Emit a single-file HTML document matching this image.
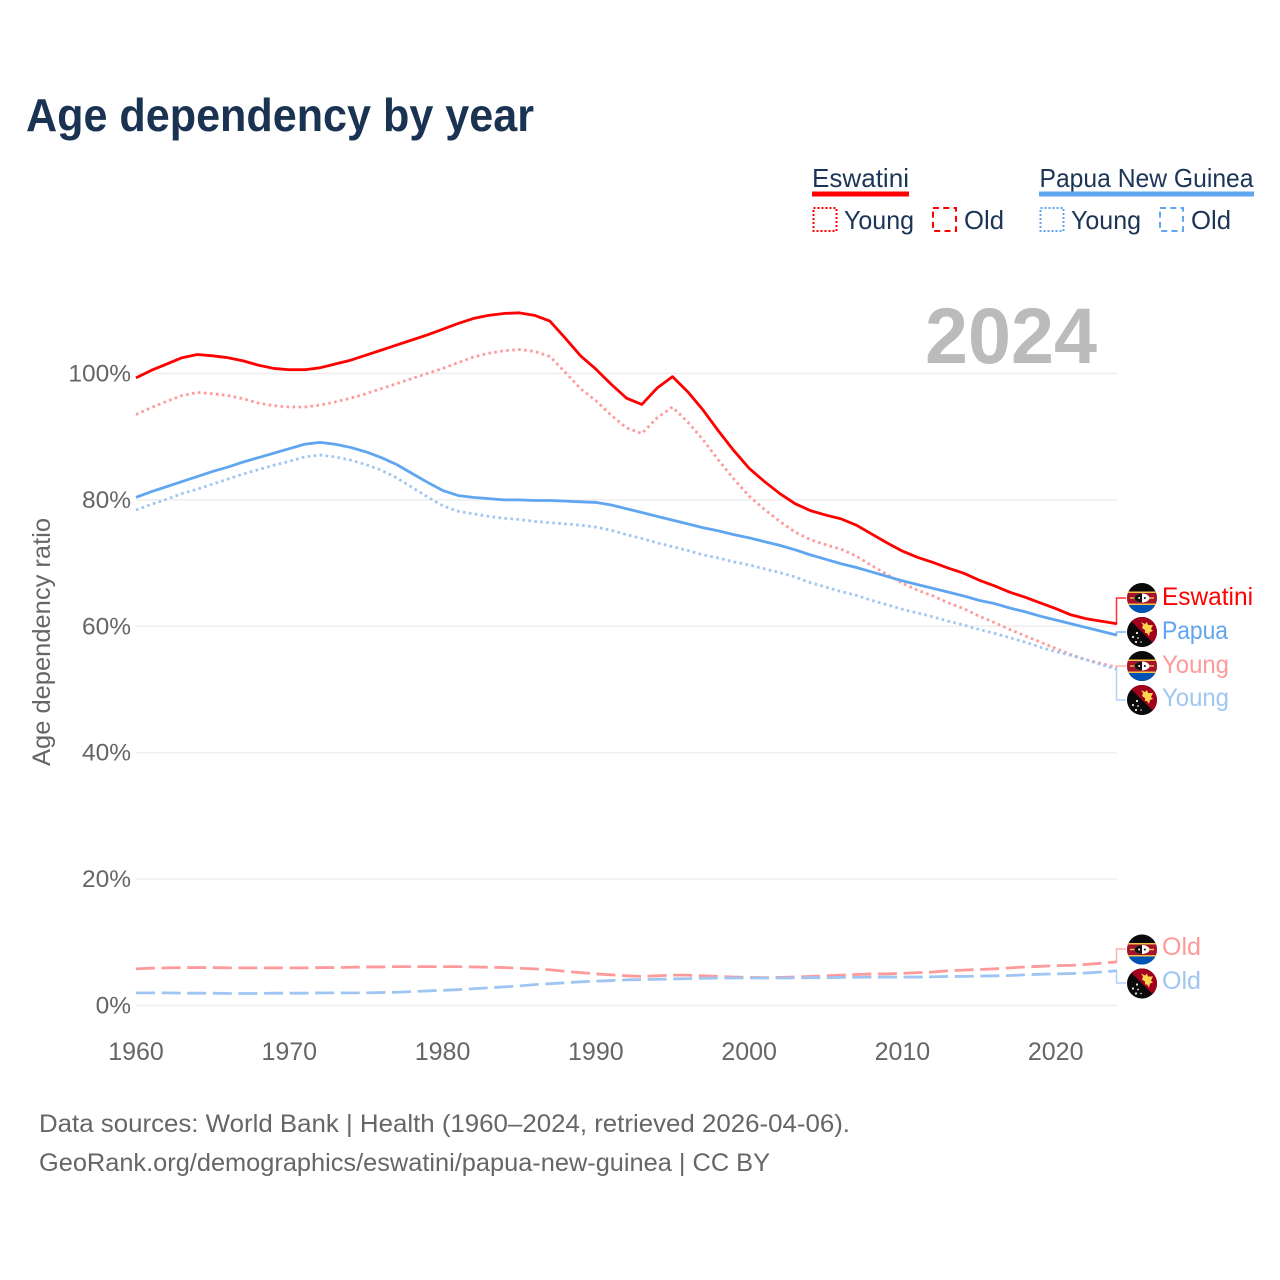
<!DOCTYPE html>
<html lang="en">
<head>
<meta charset="utf-8">
<title>Age dependency by year</title>
<style>
html,body{margin:0;padding:0;background:#fff;}
svg{display:block;font-family:"Liberation Sans",sans-serif;}
</style>
</head>
<body>
<svg id="chart" width="1280" height="1280" viewBox="0 0 1280 1280" xmlns="http://www.w3.org/2000/svg">
  <defs>
    <clipPath id="flag-clip"><circle cx="0" cy="0" r="15"/></clipPath>
    <g id="flag-eswatini" clip-path="url(#flag-clip)">
      <rect x="-15" y="-15" width="30" height="30" fill="#0a0a0a"/>
      <rect x="-15" y="-6.5" width="30" height="13.5" fill="#f6c445"/>
      <rect x="-15" y="-5" width="30" height="10.5" fill="#a4122b"/>
      <rect x="-15" y="7" width="30" height="8" fill="#0052b4"/>
      <rect x="-12" y="-0.7" width="24" height="1.4" fill="#f6c445"/>
      <ellipse cx="0" cy="0" rx="7.5" ry="4.5" fill="#fff"/>
      <path d="M-7.5 0A7.5 4.5 0 0 1 0 -4.5V4.5A7.5 4.5 0 0 1 -7.5 0Z" fill="#111"/>
      <circle cx="-2.8" cy="0" r="1" fill="#fff"/>
      <circle cx="2.8" cy="0" r="1" fill="#111"/>
    </g>
    <g id="flag-papua" clip-path="url(#flag-clip)">
      <rect x="-15" y="-15" width="30" height="30" fill="#0a0a0a"/>
      <path d="M-15 -15H15V15Z" fill="#a2001d"/>
      <path d="M-1 -10L3 -8L5 -10L6 -7L11 -7L9 -3L11 -1L8 0L7 4L5 1L3 1L3 -2L0 -4L1 -7Z" fill="#ffd34d"/>
      <circle cx="-5" cy="1" r="1.1" fill="#eee"/>
      <circle cx="-9" cy="5" r="1.1" fill="#eee"/>
      <circle cx="-4" cy="6" r="0.9" fill="#eee"/>
      <circle cx="-6" cy="10" r="1.1" fill="#eee"/>
      <circle cx="-1" cy="10" r="0.8" fill="#eee"/>
    </g>
  </defs>

  <text x="26" y="131" font-size="46" font-weight="700" fill="#1a3352" textLength="508" lengthAdjust="spacingAndGlyphs">Age dependency by year</text>

  <g fill="#1c3557" font-size="26">
    <text x="812" y="187" textLength="97" lengthAdjust="spacingAndGlyphs">Eswatini</text>
    <rect x="812" y="191.5" width="97" height="5" fill="#ff0000"/>
    <rect x="813.5" y="208" width="23" height="23" fill="none" stroke="#ff0000" stroke-width="2" stroke-dasharray="2,2"/>
    <text x="844" y="229" textLength="70" lengthAdjust="spacingAndGlyphs">Young</text>
    <rect x="933" y="208" width="23" height="23" fill="none" stroke="#ff0000" stroke-width="2" stroke-dasharray="6,4.3"/>
    <text x="964" y="229" textLength="40" lengthAdjust="spacingAndGlyphs">Old</text>

    <text x="1039.5" y="187" textLength="214" lengthAdjust="spacingAndGlyphs">Papua New Guinea</text>
    <rect x="1039" y="191.5" width="215" height="5" fill="#60a5f0"/>
    <rect x="1040.5" y="208" width="23" height="23" fill="none" stroke="#60a5f0" stroke-width="2" stroke-dasharray="2,2"/>
    <text x="1071" y="229" textLength="70" lengthAdjust="spacingAndGlyphs">Young</text>
    <rect x="1160" y="208" width="23" height="23" fill="none" stroke="#60a5f0" stroke-width="2" stroke-dasharray="6,4.3"/>
    <text x="1191" y="229" textLength="40" lengthAdjust="spacingAndGlyphs">Old</text>
  </g>

  <g id="grid"></g>
  <text x="925" y="363" font-size="79" font-weight="700" fill="#bbbbbb" textLength="172" lengthAdjust="spacingAndGlyphs">2024</text>
  <g id="y-ticks" fill="#666666" font-size="24.5" text-anchor="end"></g>
  <g id="x-ticks" fill="#666666" font-size="25" text-anchor="middle"></g>
  <text transform="translate(50,642) rotate(-90)" text-anchor="middle" font-size="25" fill="#666666" textLength="248" lengthAdjust="spacingAndGlyphs">Age dependency ratio</text>
  <g id="connectors"></g>
  <g id="series"></g>

  <g font-size="25">
    <use href="#flag-eswatini" x="1142" y="598"/>
    <text x="1162" y="605" fill="#ff0000" textLength="91" lengthAdjust="spacingAndGlyphs">Eswatini</text>
    <use href="#flag-papua" x="1142" y="632"/>
    <text x="1162" y="639" fill="#60a5f0" textLength="66" lengthAdjust="spacingAndGlyphs">Papua</text>
    <use href="#flag-eswatini" x="1142" y="666"/>
    <text x="1162" y="673" fill="#ff9a9a" textLength="67" lengthAdjust="spacingAndGlyphs">Young</text>
    <use href="#flag-papua" x="1142" y="700"/>
    <text x="1162" y="706" fill="#9fc6f2" textLength="67" lengthAdjust="spacingAndGlyphs">Young</text>
    <use href="#flag-eswatini" x="1142" y="949.5"/>
    <text x="1162" y="955" fill="#ff9a9a" textLength="39" lengthAdjust="spacingAndGlyphs">Old</text>
    <use href="#flag-papua" x="1142" y="983.5"/>
    <text x="1162" y="989" fill="#9fc6f2" textLength="39" lengthAdjust="spacingAndGlyphs">Old</text>
  </g>

  <g fill="#666666" font-size="25">
    <text x="39" y="1132" textLength="811" lengthAdjust="spacingAndGlyphs">Data sources: World Bank | Health (1960–2024, retrieved 2026-04-06).</text>
    <text x="39" y="1171" textLength="731" lengthAdjust="spacingAndGlyphs">GeoRank.org/demographics/eswatini/papua-new-guinea | CC BY</text>
  </g>
</svg>
<script>
const firstYear = 1960;
const lastYear = 2024;
const xTickYears = [1960, 1970, 1980, 1990, 2000, 2010, 2020];
const yTickValues = [0, 20, 40, 60, 80, 100];
const eswatiniTotal = [
  99.3,100.5,101.5,102.5,103.0,102.8,102.5,102.0,101.3,100.8,
  100.6,100.6,100.9,101.5,102.1,102.9,103.7,104.5,105.3,106.1,
  107.0,107.9,108.7,109.2,109.5,109.6,109.2,108.3,105.6,102.8,
  100.7,98.3,96.1,95.1,97.7,99.5,97.1,94.2,90.9,87.8,
  85.0,82.9,81.0,79.4,78.3,77.6,77.0,76.0,74.6,73.2,
  71.9,70.9,70.1,69.2,68.4,67.3,66.4,65.4,64.6,63.7,
  62.8,61.8,61.2,60.8,60.4];
const eswatiniYoung = [
  93.5,94.6,95.6,96.5,97.0,96.8,96.5,96.0,95.3,94.9,
  94.7,94.7,95.0,95.5,96.1,96.8,97.6,98.4,99.2,100.0,
  100.8,101.7,102.6,103.2,103.6,103.8,103.5,102.7,100.2,97.6,
  95.7,93.4,91.4,90.5,93.0,94.7,92.3,89.5,86.3,83.3,
  80.6,78.5,76.6,74.9,73.7,72.9,72.2,71.1,69.6,68.2,
  66.8,65.7,64.8,63.7,62.8,61.6,60.6,59.5,58.5,57.5,
  56.5,55.5,54.7,54.1,53.5];
const eswatiniOld = [
  5.8,5.9,5.95,6.0,6.0,6.0,5.95,5.95,5.95,5.95,
  5.95,5.95,6.0,6.0,6.05,6.1,6.1,6.15,6.15,6.15,
  6.15,6.15,6.1,6.05,6.0,5.9,5.8,5.65,5.4,5.2,
  5.0,4.85,4.7,4.6,4.7,4.8,4.8,4.7,4.6,4.5,
  4.45,4.4,4.45,4.5,4.6,4.7,4.8,4.9,5.0,5.0,
  5.1,5.2,5.3,5.5,5.6,5.7,5.8,5.95,6.1,6.2,
  6.3,6.35,6.5,6.7,6.9];
const papuaTotal = [
  80.4,81.3,82.1,82.9,83.7,84.5,85.2,86.0,86.7,87.4,
  88.1,88.8,89.1,88.8,88.3,87.6,86.7,85.6,84.2,82.8,
  81.5,80.7,80.4,80.2,80.0,80.0,79.9,79.9,79.8,79.7,
  79.6,79.2,78.6,78.0,77.4,76.8,76.2,75.6,75.1,74.5,
  74.0,73.4,72.8,72.1,71.3,70.6,69.9,69.3,68.6,67.9,
  67.2,66.6,66.0,65.4,64.8,64.1,63.6,62.9,62.3,61.6,
  61.0,60.4,59.8,59.2,58.6];
const papuaYoung = [
  78.4,79.3,80.1,81.0,81.7,82.5,83.3,84.1,84.8,85.5,
  86.1,86.8,87.1,86.8,86.3,85.6,84.7,83.5,82.0,80.5,
  79.1,78.2,77.8,77.4,77.1,76.9,76.6,76.4,76.2,76.0,
  75.7,75.2,74.5,73.9,73.2,72.6,72.0,71.3,70.8,70.2,
  69.7,69.1,68.5,67.8,66.9,66.2,65.5,64.9,64.1,63.4,
  62.7,62.1,61.5,60.8,60.2,59.5,58.9,58.2,57.5,56.7,
  56.0,55.4,54.7,53.9,53.2];
const papuaOld = [
  2.0,2.0,2.0,1.95,1.95,1.95,1.9,1.9,1.9,1.95,
  1.95,1.95,2.0,2.0,2.0,2.0,2.05,2.1,2.2,2.3,
  2.4,2.5,2.65,2.8,2.95,3.1,3.3,3.45,3.6,3.75,
  3.85,3.95,4.05,4.1,4.15,4.2,4.25,4.3,4.35,4.35,
  4.35,4.35,4.35,4.35,4.4,4.4,4.45,4.45,4.5,4.5,
  4.5,4.5,4.55,4.6,4.6,4.65,4.7,4.75,4.85,4.95,
  5.0,5.05,5.15,5.3,5.5];

const NS = 'http://www.w3.org/2000/svg';
function xScale(year) { return 136 + (year - firstYear) * (1117 - 136) / (lastYear - firstYear); }
function yScale(v) { return 1005.5 - v * (1005.5 - 373.5) / 100; }
function make(tag, parent, attrs) {
  const el = document.createElementNS(NS, tag);
  for (const k in attrs) el.setAttribute(k, attrs[k]);
  parent.appendChild(el);
  return el;
}

const gridG = document.getElementById('grid');
const yTickG = document.getElementById('y-ticks');
yTickValues.forEach(function (v) {
  const line = make('line', gridG, { x1: 136, x2: 1117, y1: yScale(v), y2: yScale(v), stroke: '#eeeeee', 'stroke-width': 1.5 });
  
  
  const t = make('text', yTickG, { x: 131, y: yScale(v) + 8 });
  t.textContent = v + '%';
  
  
});

const xTickG = document.getElementById('x-ticks');
xTickYears.forEach(function (yr) {
  const t = make('text', xTickG, { x: xScale(yr), y: 1060 });
  t.textContent = yr;
  
  
});

function drawLine(values, color, dash) {
  const pts = values.map(function (v, i) { return xScale(firstYear + i).toFixed(2) + ',' + yScale(v).toFixed(2); });
  const attrs = { points: pts.join(' '), fill: 'none', stroke: color, 'stroke-width': 2.8, 'stroke-linejoin': 'round' };
  if (dash) attrs['stroke-dasharray'] = dash;
  return make('polyline', document.getElementById('series'), attrs);
}
const DOT = '2.6,3.4';
const DASH = '19,6.6';
const lineA = drawLine(eswatiniOld, '#ff9a9a', DASH);


const lineB = drawLine(papuaOld, '#9fc6f2', DASH);


const lineC = drawLine(eswatiniYoung, '#ff9a9a', DOT);


const lineD = drawLine(papuaYoung, '#9fc6f2', DOT);


const lineE = drawLine(papuaTotal, '#60a5f0', null);


const lineF = drawLine(eswatiniTotal, '#ff0000', null);



function drawConnector(values, labelY, color) {
  const endY = yScale(values[values.length - 1]).toFixed(2);
  return make('polyline', document.getElementById('connectors'), {
    points: '1116.5,' + endY + ' 1116.5,' + labelY + ' 1126,' + labelY,
    fill: 'none', stroke: color, 'stroke-width': 1.5
  });
}
const connA = drawConnector(eswatiniTotal, 598, '#ff3030');


const connB = drawConnector(papuaTotal, 632, '#80b6f2');


const connC = drawConnector(eswatiniYoung, 666, '#ffb0b0');


const connD = drawConnector(papuaYoung, 700, '#b0d2f6');


const connE = drawConnector(eswatiniOld, 949, '#ffb0b0');


const connF = drawConnector(papuaOld, 983, '#b0d2f6');


</script>
</body>
</html>
